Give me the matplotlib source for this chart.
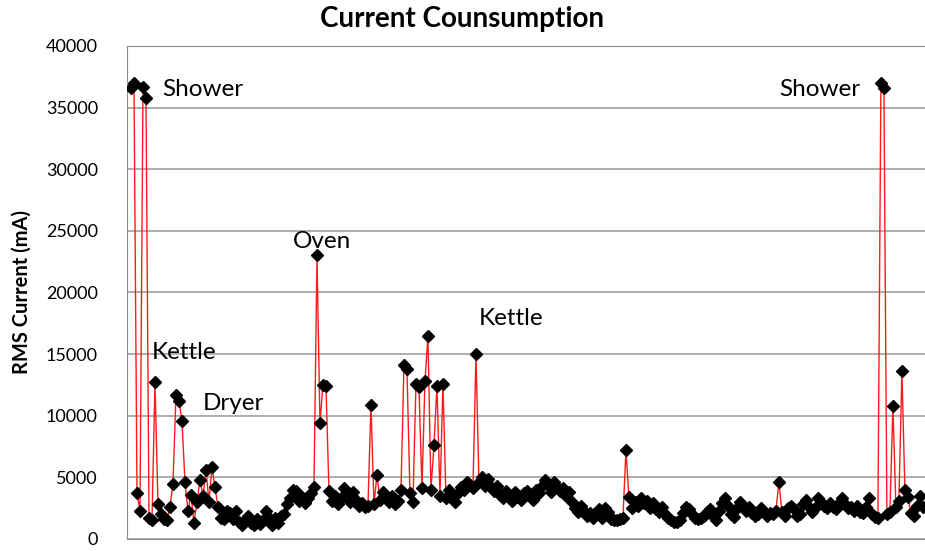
import matplotlib.pyplot as plt

# RMS current readings (mA), one per sample
current_ma = [
    36600, 37000, 3700, 2300, 36700, 35800, 1700, 1500, 12700, 2800,
    2000, 1600, 1500, 2600, 4500, 11700, 11200, 9600, 4600, 2300,
    3600, 1300, 3000, 4800, 3500, 5600, 3000, 5800, 4200, 2600,
    1700, 1600, 2300, 2100, 1600, 2300, 1400, 1100, 1500, 1900,
    1300, 1100, 1600, 1200, 1500, 2300, 1700, 1100, 1700, 1300,
    1900, 2000, 2800, 3300, 4000, 3900, 3100, 3400, 2900, 3300,
    3700, 4200, 23000, 9400, 12500, 12400, 3900, 3100, 3500, 2800,
    3300, 4100, 3600, 3000, 3800, 3200, 2700, 2900, 2600, 2700,
    10900, 2800, 5200, 3200, 3800, 3300, 3000, 3500, 2800, 3100,
    4000, 14100, 13800, 3700, 3000, 12600, 12300, 4100, 12800, 16500,
    4000, 7600, 12400, 3500, 12600, 3300, 4000, 3600, 3000, 3700,
    4200, 4000, 4600, 4400, 4100, 15000, 4600, 5000, 4300, 4900,
    4200, 3900, 4300, 3600, 3300, 3900, 3500, 3100, 3800, 3400,
    3200, 3700, 3900, 3600, 3200, 4000, 3700, 4300, 4800, 4400,
    3800, 4600, 4200, 3900, 4100, 3500, 3800, 3000, 2500, 2200,
    2700, 2300, 1900, 2100, 1700, 2000, 2400, 1700, 2500, 2200,
    1600, 1500, 1500, 1600, 1700, 7200, 3400, 2500, 3000, 2700,
    3300, 2900, 3100, 2500, 2900, 2400, 2200, 2600, 2000, 1700,
    1500, 1400, 1400, 1500, 2100, 2600, 2400, 2000, 1700, 1600,
    1700, 1900, 2200, 2400, 1900, 1500, 2300, 2900, 3300, 2700,
    2000, 1800, 2500, 3000, 2700, 2300, 2600, 2100, 1900, 2000,
    2500, 2200, 1900, 2100, 2000, 2300, 4600, 2200, 1900, 2500,
    2700, 2400, 1900, 2000, 2800, 3200, 2600, 2200, 2500, 3300,
    3000, 2700, 2500, 2900, 2600, 2400, 2900, 3300, 2800, 2500,
    2600, 2300, 2700, 2200, 2100, 2600, 3300, 2000, 1800, 1700,
    37000, 36600, 2000, 2200, 10800, 2600, 3100, 13600, 4000, 3400,
    2100, 1900, 2700, 3500, 2600,
]
sample = list(range(len(current_ma)))

# appliance labels: (text, sample index, value)
labels = ["Shower", "Kettle", "Dryer", "Oven", "Kettle", "Shower"]
label_x = [10.3, 7.0, 24.0, 54.0, 116.0, 216.0]
label_y = [36500, 15100, 11000, 24100, 17900, 36500]

plt.rcParams['font.family'] = ['Lato', 'DejaVu Sans']

fig = plt.figure(figsize=(9.25, 5.51), dpi=100)
ax = fig.add_axes([0.1373, 0.0218, 0.8627, 0.8948])

ax.plot(sample, current_ma, color='#ff1a1a', linewidth=1.0, marker='D',
        markersize=6.3, markerfacecolor='black', markeredgecolor='black', zorder=3)

for txt, lx, ly in zip(labels, label_x, label_y):
    ax.text(lx, ly, txt, fontsize=17.5, va='center', ha='left', color='black')

ax.set_ylim(0, 40000)
ax.set_yticks(range(0, 40001, 5000))
ax.set_xlim(-1.33, len(current_ma) - 0.3)
ax.set_xticks([])
ax.grid(axis='y', color='#a0a0a0', linewidth=1.2)
ax.set_axisbelow(True)
ax.tick_params(axis='y', length=0, pad=21, labelsize=13)
for side in ['left', 'top', 'bottom']:
    ax.spines[side].set_color('#8c8c8c')
ax.spines['right'].set_visible(False)

ax.set_ylabel('RMS Current (mA)', fontsize=14.5, fontweight='bold', labelpad=10)
fig.suptitle('Current Counsumption', fontsize=20, fontweight='bold', y=0.99)

fig.savefig('out.png', dpi=100)
